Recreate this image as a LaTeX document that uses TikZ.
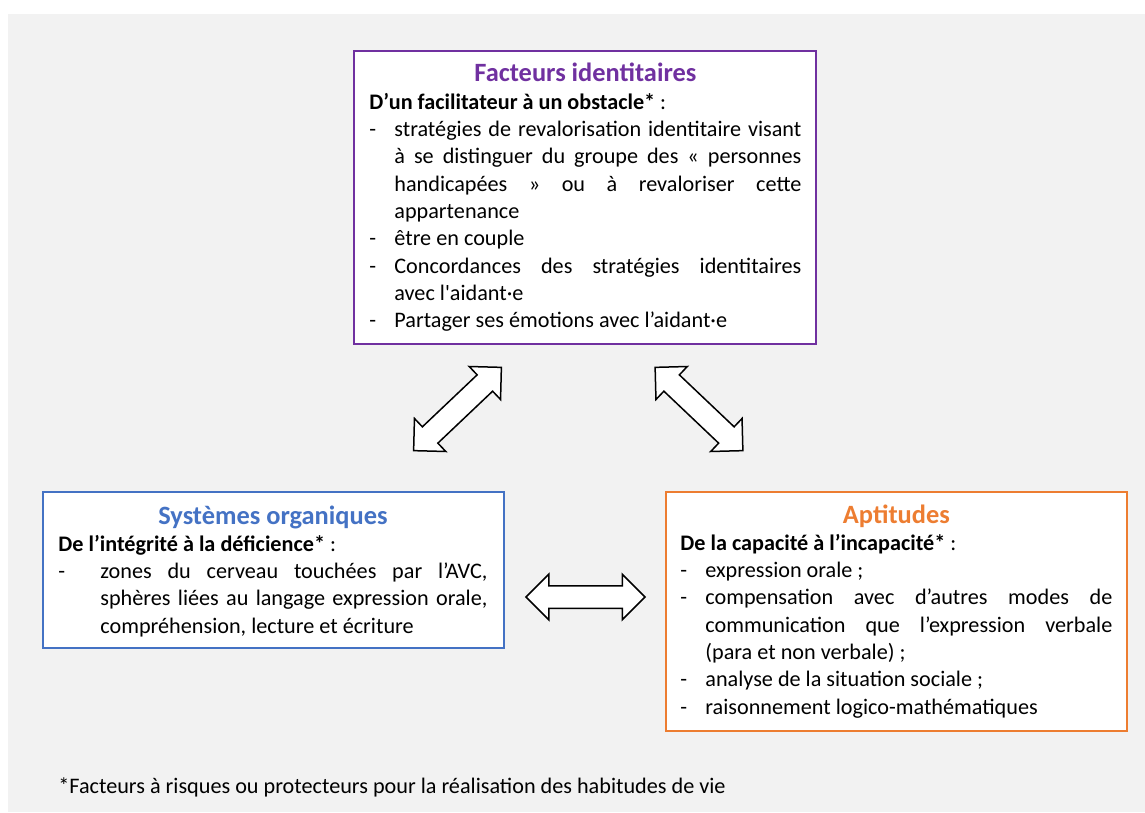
\documentclass[tikz,border=0pt]{standalone}
\usepackage{fontspec}
\setmainfont{Carlito}[Ligatures=TeXOff]
\usetikzlibrary{shapes.arrows}

\definecolor{violetid}{HTML}{7030A0}
\definecolor{bleuorg}{HTML}{4472C4}
\definecolor{orangeapt}{HTML}{ED7D31}
\definecolor{fondgris}{HTML}{F2F2F2}

\tolerance=9999
\hbadness=10000
\hyphenpenalty=10000

\newlength{\tiretw}
\newcommand{\tiret}[1]{\par\hangindent=\tiretw\hangafter=1\noindent\makebox[\tiretw][l]{-}#1\par}
\newcommand{\titre}[2]{{\centering\fontsize{13.2}{16}\selectfont\bfseries\color{#1}#2\par}}
\newcommand{\corps}{\fontsize{11.1}{13.65}\selectfont}

\tikzset{
  cadre/.style={draw=#1, fill=white, line width=0.75pt, inner sep=0pt},
  texte/.style={anchor=base west, inner sep=0pt, text width=#1, align=justify, font=\corps},
  fleche/.style={double arrow, draw=black, fill=white, line width=0.75pt,
    inner xsep=0pt, inner ysep=5.25pt,
    double arrow tip angle=90, double arrow head extend=5.75pt, minimum height=#1}
}

\begin{document}
\begin{tikzpicture}[x=0.5pt, y=-0.5pt]
    % fond
    \useasboundingbox (0,0) rectangle (1145,813);
    \fill[fondgris] (8,14) rectangle (1145,812);

    % cadres
    \node[cadre=violetid, minimum width=231pt, minimum height=146.5pt] (ident) at (585,197.5) {};
    \node[cadre=bleuorg, minimum width=230.5pt, minimum height=78pt] (organ) at (273.5,570) {};
    \node[cadre=orangeapt, minimum width=230.5pt, minimum height=119.5pt] (apt) at (896.5,611.5) {};

    % Facteurs identitaires
    \node[texte=216pt] (identtxt) at (369,82) {\setlength{\tiretw}{12.5pt}%
        \titre{violetid}{Facteurs identitaires}
        \textbf{D’un facilitateur à un obstacle*} :
        \tiret{stratégies de revalorisation identitaire visant\linebreak à se distinguer du groupe des « personnes\linebreak handicapées » ou à revaloriser cette\linebreak appartenance}
        \tiret{être en couple}
        \tiret{Concordances des stratégies identitaires\linebreak avec l'aidant·e}
        \tiret{Partager ses émotions avec l’aidant·e}};

    % Systemes organiques
    \node[texte=214.5pt] (organtxt) at (58,524) {\setlength{\tiretw}{21pt}%
        \titre{bleuorg}{Systèmes organiques}
        \textbf{De l’intégrité à la déficience*} :
        \tiret{zones du cerveau touchées par l’AVC,\linebreak sphères liées au langage expression orale,\linebreak compréhension, lecture et écriture}};

    % Aptitudes
    \node[texte=216pt] (apttxt) at (680,523) {\setlength{\tiretw}{12.5pt}%
        \titre{orangeapt}{Aptitudes}
        \textbf{De la capacité à l’incapacité*} :
        \tiret{expression orale ;}
        \tiret{compensation avec d’autres modes de\linebreak communication que l’expression verbale\linebreak (para et non verbale) ;}
        \tiret{analyse de la situation sociale ;}
        \tiret{raisonnement logico-mathématiques}};

    % fleches doubles
    \node[fleche=60.5pt, rotate=43.5] (flecheG) at (457.5,409) {};
    \node[fleche=60.5pt, rotate=-43.5] (flecheD) at (699,409) {};
    \node[fleche=59.5pt] (flecheB) at (585.5,597) {};

    % note
    \node[anchor=base west, inner sep=0pt, font=\corps] (note) at (58,793)
        {*Facteurs à risques ou protecteurs pour la réalisation des habitudes de vie};
\end{tikzpicture}
\end{document}
